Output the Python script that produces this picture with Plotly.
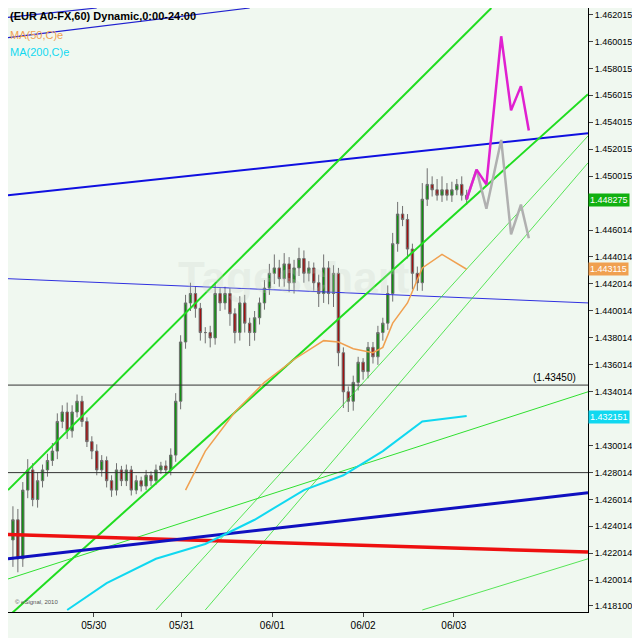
import plotly.graph_objects as go

# candle x positions (px-like hourly index) and closes
bar_x = list(range(5, 470, 5))
closes = [1.4245,1.4216,1.4267,1.4282,1.4260,1.4274,1.4282,1.4289,1.4296,1.4318,1.4325,1.4311,1.4325,1.4333,
          1.4318,1.4303,1.4296,1.4282,1.4289,1.4274,1.4267,1.4282,1.4274,1.4282,1.4267,1.4274,1.4270,1.4278,
          1.4274,1.4282,1.4285,1.4282,1.4293,1.4333,1.4377,1.4406,1.4413,1.4402,1.4384,1.4384,1.4380,1.4413,
          1.4406,1.4413,1.4398,1.4384,1.4406,1.4391,1.4384,1.4395,1.4406,1.4417,1.4428,1.4432,1.4424,1.4435,
          1.4421,1.4432,1.4439,1.4428,1.4432,1.4421,1.4413,1.4432,1.4413,1.4428,1.4369,1.4340,1.4333,1.4347,
          1.4362,1.4355,1.4373,1.4366,1.4384,1.4391,1.4413,1.4450,1.4472,1.4468,1.4446,1.4428,1.4421,1.4483,
          1.4494,1.4490,1.4486,1.4490,1.4486,1.4490,1.4494,1.4486,1.4483]
opens = [1.4230] + closes[:-1]
wick_up = [0.0010,0.0008,0.0006,0.0008,0.0005,0.0006,0.0004,0.0005,0.0006,0.0006,0.0005,0.0007,0.0005,0.0005,
           0.0004,0.0003,0.0004,0.0005,0.0004,0.0003,0.0004,0.0005,0.0003,0.0004,0.0003,0.0004,0.0003,0.0004,
           0.0003,0.0004,0.0003,0.0004,0.0005,0.0006,0.0005,0.0006,0.0008,0.0005,0.0004,0.0004,0.0005,0.0008,
           0.0004,0.0005,0.0004,0.0004,0.0005,0.0006,0.0004,0.0005,0.0004,0.0006,0.0007,0.0010,0.0006,0.0008,
           0.0005,0.0006,0.0008,0.0006,0.0005,0.0004,0.0006,0.0010,0.0005,0.0006,0.0004,0.0004,0.0004,0.0005,
           0.0004,0.0003,0.0004,0.0004,0.0005,0.0004,0.0006,0.0008,0.0009,0.0006,0.0004,0.0004,0.0005,0.0012,
           0.0012,0.0006,0.0008,0.0010,0.0005,0.0006,0.0004,0.0006,0.0004]
wick_dn = [0.0020,0.0010,0.0006,0.0006,0.0005,0.0006,0.0005,0.0005,0.0004,0.0006,0.0005,0.0006,0.0005,0.0004,
           0.0004,0.0004,0.0006,0.0004,0.0005,0.0005,0.0005,0.0004,0.0004,0.0004,0.0004,0.0003,0.0004,0.0003,
           0.0004,0.0003,0.0003,0.0004,0.0004,0.0005,0.0006,0.0005,0.0006,0.0007,0.0006,0.0008,0.0007,0.0005,
           0.0006,0.0005,0.0009,0.0008,0.0006,0.0007,0.0010,0.0006,0.0005,0.0005,0.0005,0.0008,0.0006,0.0006,
           0.0007,0.0008,0.0006,0.0007,0.0006,0.0006,0.0010,0.0007,0.0008,0.0010,0.0010,0.0012,0.0008,0.0007,
           0.0006,0.0006,0.0005,0.0005,0.0006,0.0006,0.0005,0.0006,0.0006,0.0005,0.0007,0.0012,0.0006,0.0006,
           0.0005,0.0005,0.0004,0.0005,0.0004,0.0005,0.0004,0.0004,0.0004]
highs = [max(o, c) + w for o, c, w in zip(opens, closes, wick_up)]
lows = [min(o, c) - w for o, c, w in zip(opens, closes, wick_dn)]

ma50_x = [180,200,230,260,290,320,335,350,370,380,390,405,420,440,465]
ma50_y = [1.4267,1.4296,1.4325,1.4347,1.4364,1.4378,1.4377,1.4372,1.4369,1.4373,1.4391,1.4406,1.4432,1.4442,1.4431]
ma200_x = [60,100,150,200,250,300,340,380,420,465]
ma200_y = [1.4178,1.4198,1.4216,1.4227,1.4245,1.4267,1.4278,1.4296,1.4318,1.4322]
proj_x = [465,475,485,500,510,520,528]
proj_pink = [1.4483,1.4505,1.4494,1.4604,1.4549,1.4567,1.4534]
proj_gray = [1.4483,1.4505,1.4476,1.4527,1.4457,1.4479,1.4454]

# trend lines: (x0, p0, x1, p1, colour, width)
lines = [
    (0,1.4486,588,1.4532,"#1010e0",2),
    (0,1.4603,245,1.4625,"#2020d0",1.2),
    (0,1.4618,90,1.4625,"#2020d0",1.2),
    (0,1.4424,588,1.4406,"#3030e0",1),
    (0,1.4267,490,1.4625,"#20dd20",2),
    (0,1.4173,588,1.4561,"#20dd20",2),
    (0,1.4201,588,1.4340,"#30e030",1),
    (150,1.4178,588,1.4530,"#30e030",0.8),
    (200,1.4178,588,1.4510,"#30e030",0.8),
    (420,1.4178,588,1.4216,"#30e030",0.8),
    (0,1.4234,588,1.4221,"#ee1010",3.5),
    (0,1.4216,588,1.4265,"#1010c0",3),
    (0,1.4345,588,1.4345,"#333333",1),
    (0,1.4280,588,1.4280,"#333333",1),
]

tick_vals = [1.462015,1.460015,1.458015,1.456015,1.454015,1.452015,1.450015,1.446014,1.444014,1.442014,
             1.440014,1.438014,1.436014,1.434014,1.430014,1.428014,1.426014,1.424014,1.422014,1.420014,1.418100]
date_pos = [87,176,268,360,452]
date_labels = ["05/30","05/31","06/01","06/02","06/03"]

fig = go.Figure()
for x0,p0,x1,p1,col,w in lines:
    fig.add_trace(go.Scatter(x=[x0,x1], y=[p0,p1], mode="lines", line=dict(color=col, width=w),
                             hoverinfo="skip", showlegend=False))
fig.add_trace(go.Scatter(x=ma200_x, y=ma200_y, mode="lines", line=dict(color="#10d8f0", width=2), showlegend=False))
fig.add_trace(go.Scatter(x=ma50_x, y=ma50_y, mode="lines", line=dict(color="#f0a050", width=1.5), showlegend=False))
fig.add_trace(go.Candlestick(x=bar_x, open=opens, high=highs, low=lows, close=closes,
    increasing=dict(line=dict(color="#707070", width=1), fillcolor="#109010"),
    decreasing=dict(line=dict(color="#707070", width=1), fillcolor="#a01010"),
    whiskerwidth=0, showlegend=False))
fig.add_trace(go.Scatter(x=proj_x, y=proj_gray, mode="lines", line=dict(color="#b0b0b0", width=2.5), showlegend=False))
fig.add_trace(go.Scatter(x=proj_x, y=proj_pink, mode="lines", line=dict(color="#e020d0", width=2.5), showlegend=False))

ann = [
    dict(x=0, y=1, xref="paper", yref="paper", xanchor="left", yanchor="top", showarrow=False,
         text="<b>(EUR A0-FX,60) Dynamic,0:00-24:00</b>", font=dict(size=11, color="black")),
    dict(x=0, y=0.968, xref="paper", yref="paper", xanchor="left", yanchor="top", showarrow=False,
         text="MA(50,C)e", font=dict(size=11, color="#f0a050")),
    dict(x=0, y=0.94, xref="paper", yref="paper", xanchor="left", yanchor="top", showarrow=False,
         text="MA(200,C)e", font=dict(size=11, color="#10d8f0")),
    dict(x=578, y=1.4345, xanchor="right", yanchor="bottom", showarrow=False, text="(1.43450)",
         font=dict(size=10, color="black")),
    dict(x=290, y=1.4425, showarrow=False, text="<b>Tageschart</b>", font=dict(size=44, color="rgba(200,210,200,0.25)")),
    dict(x=5, y=1.4180, xanchor="left", yanchor="bottom", showarrow=False, text="© eSignal, 2010",
         font=dict(size=6, color="#555")),
]
for val, bg in [(1.448275,"#10b010"),(1.443115,"#f0a050"),(1.432151,"#10d8f0")]:
    ann.append(dict(x=1.0, y=val, xref="paper", yref="y", xanchor="left", showarrow=False,
                    text=f"{val:.6f}", bgcolor=bg, font=dict(size=9, color="white"), borderpad=1))

fig.update_layout(
    width=632, height=630, margin=dict(l=0, r=52, t=0, b=26, autoexpand=False),
    paper_bgcolor="#f0f8f0", plot_bgcolor="#f0f8f0",
    xaxis=dict(range=[0,588], rangeslider=dict(visible=False), showgrid=False, zeroline=False, automargin=False,
               tickvals=date_pos, ticktext=date_labels, ticks="outside", ticklen=4,
               tickfont=dict(size=10, color="black", family="Arial"), showline=True, linecolor="black"),
    yaxis=dict(range=[1.41765, 1.46250], side="right", showgrid=False, zeroline=False, automargin=False,
               tickvals=tick_vals, ticktext=[f"{v:.6f}" for v in tick_vals], ticks="outside", ticklen=4,
               tickfont=dict(size=9, color="black", family="Arial"), showline=True, linecolor="black"),
    annotations=ann, font=dict(family="Arial"),
)
fig.write_html("out.html")
